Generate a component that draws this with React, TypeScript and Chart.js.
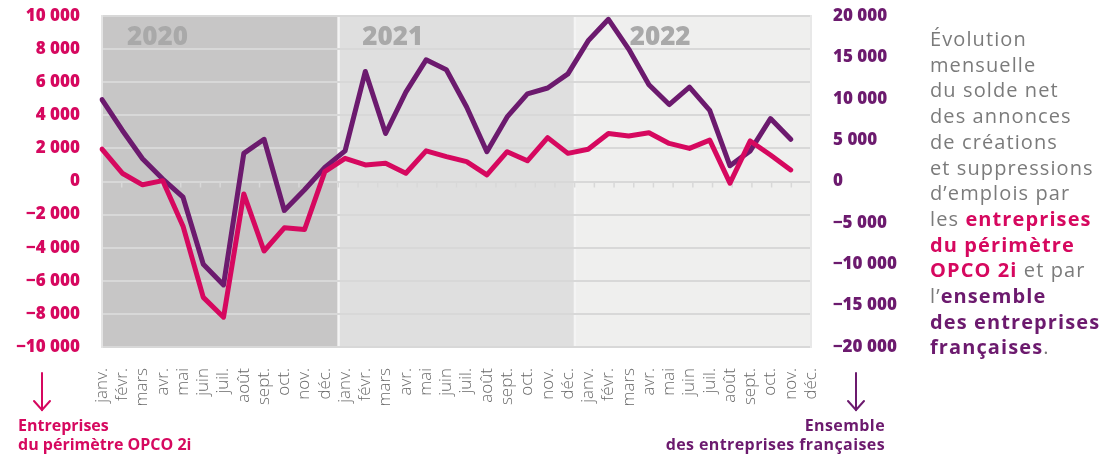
import React, { useEffect, useRef } from 'react';
import { Chart, registerables } from 'chart.js';

Chart.register(...registerables);

// ---- data ----
const months = ['janv.', 'févr.', 'mars', 'avr.', 'mai', 'juin', 'juil.', 'août', 'sept.', 'oct.', 'nov.', 'déc.'];
const years = ['2020', '2021', '2022'];
const categories = [...months, ...months, ...months];

const opco2i2020 = [1950, 500, -200, 50, -2700, -7000, -8200, -750, -4200, -2800, -2900, 600];
const opco2i2021 = [1400, 1000, 1100, 500, 1850, 1500, 1200, 400, 1800, 1250, 2650, 1700];
const opco2i2022 = [1950, 2900, 2750, 2950, 2300, 2000, 2500, -100, 2450, 1600, 700, null];

const ensemble2020 = [9900, 6200, 2750, 300, -1900, -10000, -12500, 3400, 5100, -3500, -1000, 1700];
const ensemble2021 = [3700, 13300, 5800, 10800, 14700, 13500, 9000, 3600, 7800, 10600, 11300, 13000];
const ensemble2022 = [17000, 19600, 16000, 11700, 9300, 11400, 8600, 1900, 3700, 7600, 5100, null];

const opco2i = [...opco2i2020, ...opco2i2021, ...opco2i2022];
const ensemble = [...ensemble2020, ...ensemble2021, ...ensemble2022];

const PINK = '#d6085f';
const PURPLE = '#6c1a6e';
const FONT = "'Open Sans', 'Noto Sans', sans-serif";

const bandColors = ['#c7c6c6', '#dfdfdf', '#efefee'];
const yearLabelOffsets = [25, 24, 55];

const fmt = (v: number) => {
  const s = Math.abs(v).toString().replace(/\B(?=(\d{3})+(?!\d))/g, ' ');
  return (v < 0 ? '−' : '') + s;
};

const bandsPlugin = {
  id: 'bands',
  beforeDraw(chart: any) {
    const { ctx, chartArea } = chart;
    const { left, right, top, bottom } = chartArea;
    const n = categories.length;
    const w = (right - left) / n;
    ctx.save();
    years.forEach((yr, k) => {
      const x0 = left + k * 12 * w;
      const x1 = left + (k + 1) * 12 * w;
      ctx.fillStyle = bandColors[k];
      ctx.fillRect(x0, top, x1 - x0, bottom - top);
    });
    ctx.fillStyle = '#f4f4f4';
    for (let k = 1; k < years.length; k++) {
      const x = left + k * 12 * w;
      ctx.fillRect(x - 1, top, 2.5, bottom - top);
    }
    ctx.fillStyle = '#a9a9a9';
    ctx.font = `800 26px ${FONT}`;
    ctx.textBaseline = 'alphabetic';
    ctx.textAlign = 'left';
    years.forEach((yr, k) => {
      const x0 = left + k * 12 * w;
      ctx.fillText(yr, x0 + yearLabelOffsets[k], top + 29);
    });
    ctx.restore();
  },
  beforeDatasetsDraw(chart: any) {
    const { ctx, chartArea, scales } = chart;
    const { left, right } = chartArea;
    const n = categories.length;
    const w = (right - left) / n;
    const y0 = scales.yL.getPixelForValue(0);
    ctx.save();
    ctx.strokeStyle = '#d8d8d8';
    ctx.lineWidth = 1.5;
    for (let i = 1; i < n; i++) {
      const x = left + i * w;
      ctx.beginPath();
      ctx.moveTo(x, y0);
      ctx.lineTo(x, y0 + 6);
      ctx.stroke();
    }
    ctx.restore();
  },
};

export default function App() {
  const ref = useRef<HTMLCanvasElement>(null);

  useEffect(() => {
    const canvas = ref.current!;
    const chart = new Chart(canvas, {
      type: 'line',
      data: {
        labels: categories,
        datasets: [
          {
            label: 'Entreprises du périmètre OPCO 2i',
            data: opco2i,
            yAxisID: 'yL',
            borderColor: PINK,
            backgroundColor: PINK,
            borderWidth: 5,
            pointRadius: 0,
            tension: 0,
            borderJoinStyle: 'round',
            borderCapStyle: 'round',
          },
          {
            label: 'Ensemble des entreprises françaises',
            data: ensemble,
            yAxisID: 'yR',
            borderColor: PURPLE,
            backgroundColor: PURPLE,
            borderWidth: 5,
            pointRadius: 0,
            tension: 0,
            borderJoinStyle: 'round',
            borderCapStyle: 'round',
          },
        ],
      },
      options: {
        responsive: false,
        animation: false,
        devicePixelRatio: 1,
        layout: { padding: { top: 16, left: 0, right: 0, bottom: 0 } },
        plugins: { legend: { display: false }, tooltip: { enabled: false } },
        scales: {
          x: {
            grid: { display: false, drawTicks: false },
            border: { display: false },
            ticks: {
              autoSkip: false,
              maxRotation: 90,
              minRotation: 90,
              padding: 21,
              color: '#6a6a6a',
              font: { family: FONT, size: 17, weight: '300' },
            },
            afterFit(s: any) {
              s.height = 112;
              s.paddingLeft = 0;
              s.paddingRight = 0;
            },
          },
          yL: {
            position: 'left',
            min: -10000,
            max: 10000,
            ticks: {
              stepSize: 2000,
              padding: 22,
              color: PINK,
              font: { family: FONT, size: 17, weight: '800' },
              callback: (v: any) => fmt(Number(v)),
            },
            grid: { color: '#d8d8d8', lineWidth: 2, drawTicks: false },
            border: { display: true, color: '#e4e4e4', width: 2 },
            afterFit(s: any) {
              s.width = 102;
              s.paddingTop = 0;
              s.paddingBottom = 0;
            },
          },
          yR: {
            position: 'right',
            min: -20000,
            max: 20000,
            ticks: {
              stepSize: 5000,
              padding: 22,
              color: PURPLE,
              font: { family: FONT, size: 17, weight: '800' },
              callback: (v: any) => fmt(Number(v)),
            },
            grid: { display: false, drawTicks: false },
            border: { display: true, color: '#e8e8e8', width: 2 },
            afterFit(s: any) {
              s.width = 301;
              s.paddingTop = 0;
              s.paddingBottom = 0;
            },
          },
        },
      },
      plugins: [bandsPlugin],
    } as any);
    return () => chart.destroy();
  }, []);

  const gray = '#7b7b7b';
  const b = (color: string, t: string) => (
    <span style={{ color, fontWeight: 700 }}>{t}</span>
  );

  return (
    <div style={{ position: 'absolute', left: 0, top: 0, width: 1112, height: 459, background: '#fff', overflow: 'hidden' }}>
      <canvas ref={ref} width={1112} height={459} style={{ position: 'absolute', left: 0, top: 0, width: 1112, height: 459 }} />
      <div
        style={{
          position: 'absolute',
          left: 930,
          top: 26,
          fontFamily: FONT,
          fontSize: 20,
          lineHeight: '25.7px',
          color: gray,
          letterSpacing: '1.1px',
          whiteSpace: 'nowrap',
        }}
      >
        <div>Évolution</div>
        <div>mensuelle</div>
        <div>du solde net</div>
        <div>des annonces</div>
        <div>de créations</div>
        <div>et suppressions</div>
        <div>d’emplois par</div>
        <div>les {b(PINK, 'entreprises')}</div>
        <div>{b(PINK, 'du périmètre')}</div>
        <div>{b(PINK, 'OPCO 2i')} et par</div>
        <div>l’{b(PURPLE, 'ensemble')}</div>
        <div>{b(PURPLE, 'des entreprises')}</div>
        <div>{b(PURPLE, 'françaises')}.</div>
      </div>
      <svg width={1112} height={459} style={{ position: 'absolute', left: 0, top: 0, pointerEvents: 'none' }}>
        <g stroke={PINK} strokeWidth={2} fill="none" strokeLinecap="round">
          <line x1={42} y1={373} x2={42} y2={410} />
          <polyline points="34,401 42,410 50,401" />
        </g>
        <g stroke={PURPLE} strokeWidth={2} fill="none" strokeLinecap="round">
          <line x1={856} y1={373} x2={856} y2={410} />
          <polyline points="848,401 856,410 864,401" />
        </g>
      </svg>
      <div
        style={{
          position: 'absolute',
          left: 18,
          top: 416,
          fontFamily: FONT,
          fontSize: 16,
          fontWeight: 700,
          lineHeight: '19px',
          color: PINK,
          whiteSpace: 'nowrap',
        }}
      >
        <div>Entreprises</div>
        <div>du périmètre OPCO 2i</div>
      </div>
      <div
        style={{
          position: 'absolute',
          right: 1112 - 885,
          top: 416,
          fontFamily: FONT,
          fontSize: 16,
          fontWeight: 700,
          lineHeight: '19px',
          color: PURPLE,
          textAlign: 'right',
          letterSpacing: '0.4px',
          whiteSpace: 'nowrap',
        }}
      >
        <div>Ensemble</div>
        <div>des entreprises françaises</div>
      </div>
    </div>
  );
}
